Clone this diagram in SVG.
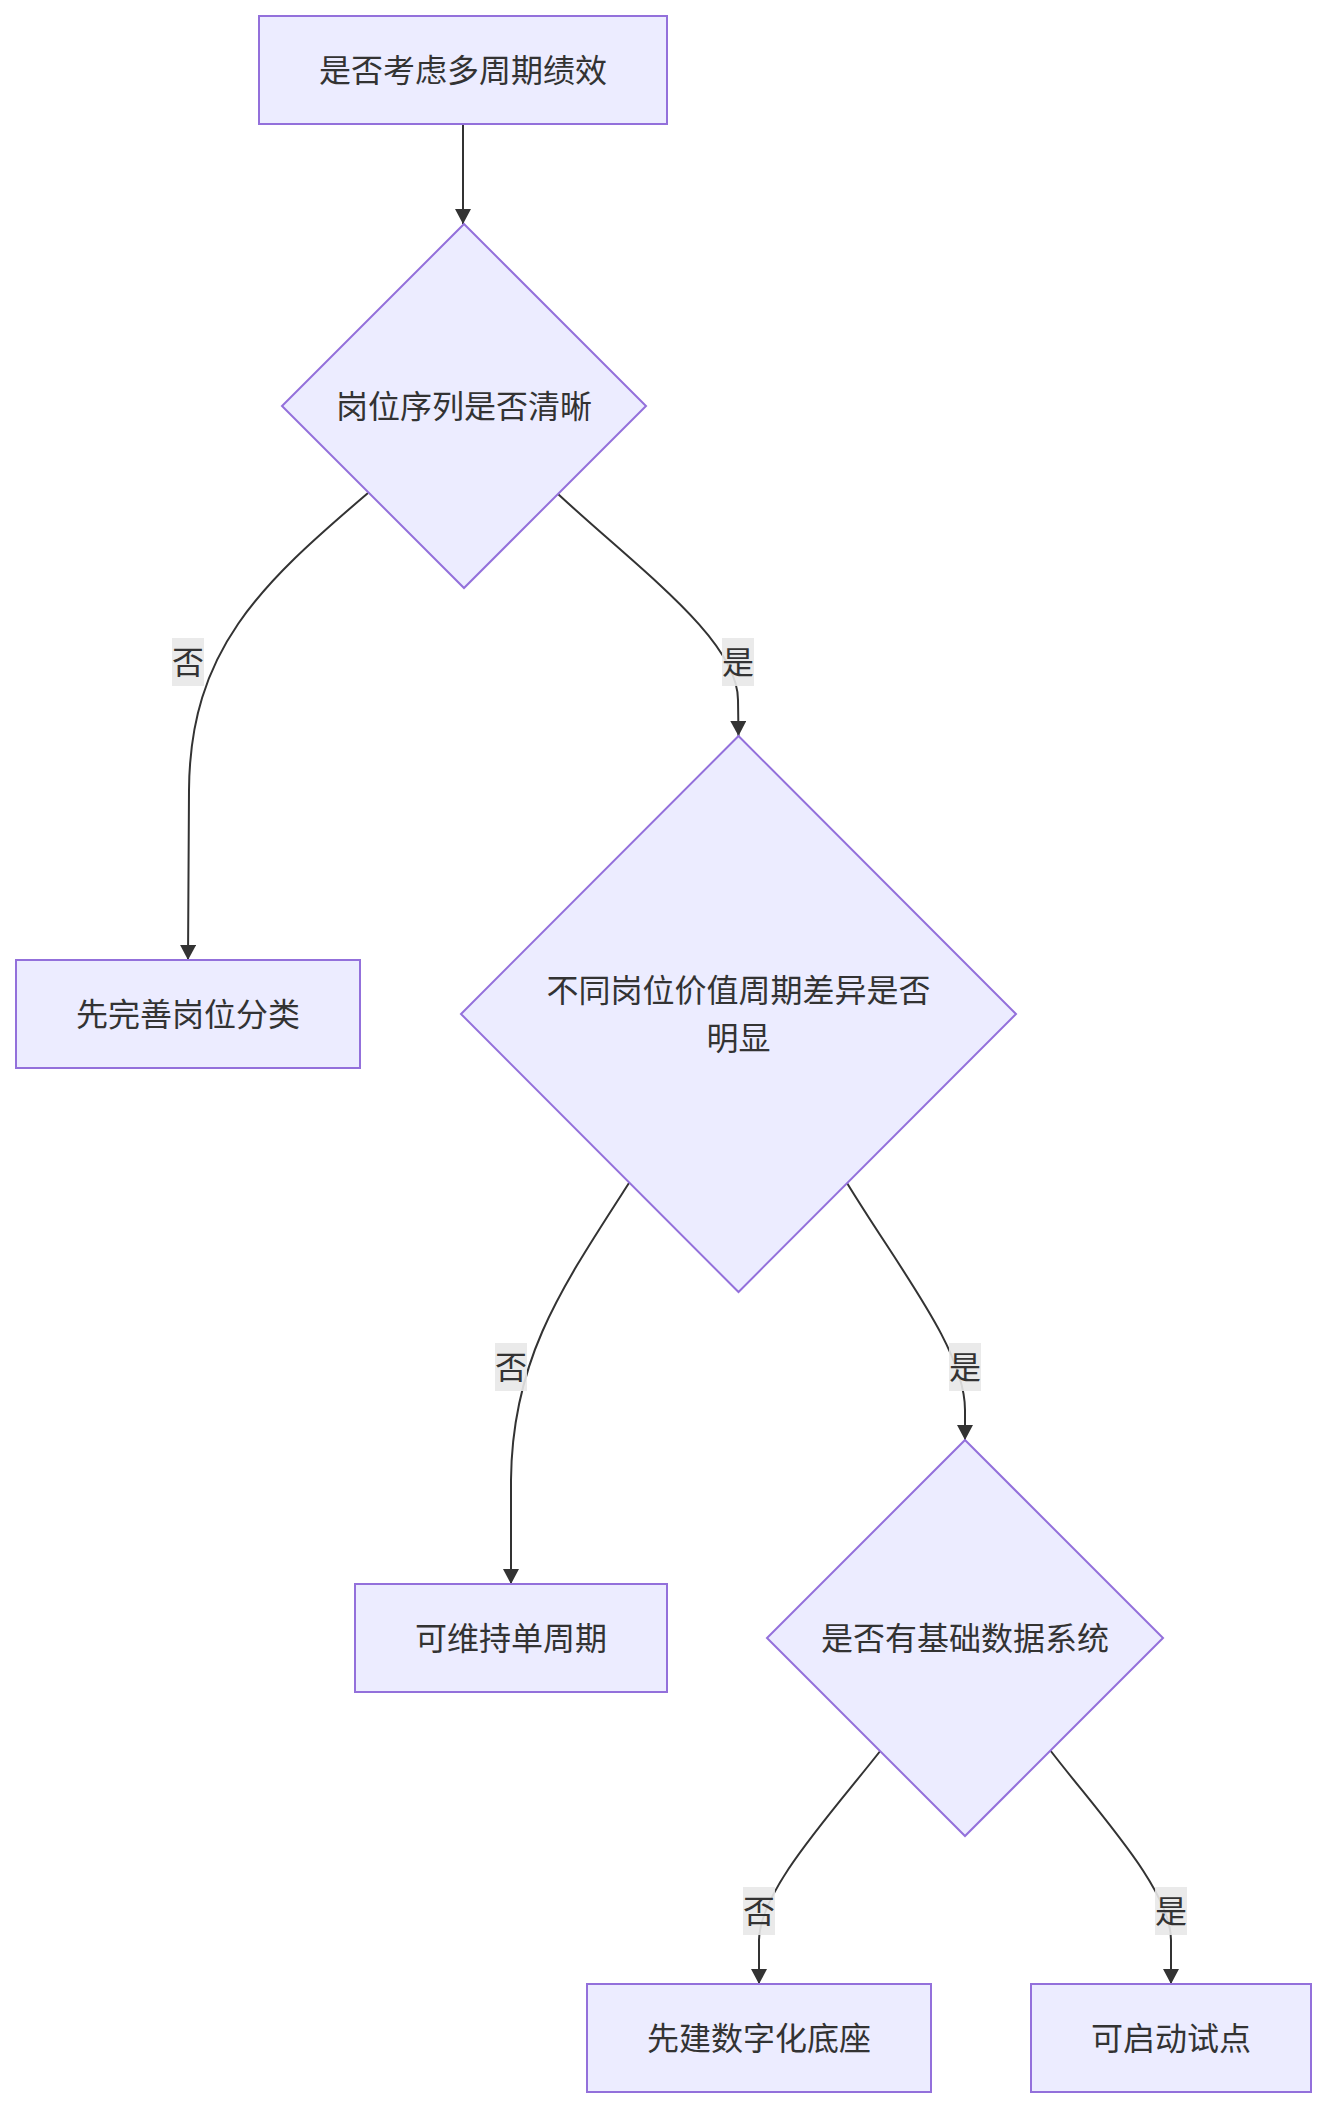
<svg xmlns="http://www.w3.org/2000/svg" width="1327" height="2108" viewBox="0 0 1327 2108">
<style>
.node{fill:#ECECFF;stroke:#9370DB;stroke-width:2}
.t{font-family:"Noto Sans CJK SC","Noto Sans",sans-serif;font-size:32px;fill:#333333;text-anchor:middle;dominant-baseline:central}
.edge{fill:none;stroke:#333333;stroke-width:2}
.lbl{fill:#e8e8e8;fill-opacity:0.9}
</style>
<defs>
<marker id="arrow" viewBox="0 0 15 16" refX="15" refY="8" markerWidth="15" markerHeight="16" markerUnits="userSpaceOnUse" orient="auto">
<path d="M0,0 L15,8 L0,16 z" fill="#333333"/>
</marker>
</defs>
<g id="connectors">
<path class="edge" d="M463,124 L463,224" marker-end="url(#arrow)"/>
<path class="edge" d="M368,493 C260,585 190,650 189,790 L188,960" marker-end="url(#arrow)"/>
<path class="edge" d="M558,494 C640,570 738,640 738,700 L738.5,736" marker-end="url(#arrow)"/>
<path class="edge" d="M629,1183 C560,1290 512,1360 511,1480 L511,1584" marker-end="url(#arrow)"/>
<path class="edge" d="M847,1183 C900,1270 965,1350 965,1410 L965,1440" marker-end="url(#arrow)"/>
<path class="edge" d="M881,1750 C830,1815 760,1890 759,1940 L759,1984" marker-end="url(#arrow)"/>
<path class="edge" d="M1050,1750 C1100,1815 1171,1890 1171,1940 L1171,1984" marker-end="url(#arrow)"/>
<g id="label-no1"><rect class="lbl" x="172" y="638" width="32" height="48"/><text class="t" x="188" y="660">否</text></g>
<g id="label-yes1"><rect class="lbl" x="722" y="638" width="32" height="48"/><text class="t" x="738" y="660">是</text></g>
<g id="label-no2"><rect class="lbl" x="495" y="1343" width="32" height="48"/><text class="t" x="511" y="1365">否</text></g>
<g id="label-yes2"><rect class="lbl" x="949" y="1343" width="32" height="48"/><text class="t" x="965" y="1365">是</text></g>
<g id="label-no3"><rect class="lbl" x="743" y="1887" width="32" height="48"/><text class="t" x="759" y="1909">否</text></g>
<g id="label-yes3"><rect class="lbl" x="1155" y="1887" width="32" height="48"/><text class="t" x="1171" y="1909">是</text></g>
</g>
<g id="n-start"><rect class="node" x="259" y="16" width="408" height="108"/><text class="t" x="463" y="68">是否考虑多周期绩效</text></g>
<g id="n-d1"><polygon class="node" points="464,224 646,406 464,588 282,406"/><text class="t" x="464" y="404">岗位序列是否清晰</text></g>
<g id="n-class"><rect class="node" x="16" y="960" width="344" height="108"/><text class="t" x="188" y="1012">先完善岗位分类</text></g>
<g id="n-d2"><polygon class="node" points="738.5,736 1016,1014 738.5,1292 461,1014"/><text class="t" x="738.5" y="988">不同岗位价值周期差异是否</text><text class="t" x="738.5" y="1036">明显</text></g>
<g id="n-single"><rect class="node" x="355" y="1584" width="312" height="108"/><text class="t" x="511" y="1636">可维持单周期</text></g>
<g id="n-d3"><polygon class="node" points="965,1440 1163,1638 965,1836 767,1638"/><text class="t" x="965" y="1636">是否有基础数据系统</text></g>
<g id="n-digital"><rect class="node" x="587" y="1984" width="344" height="108"/><text class="t" x="759" y="2036">先建数字化底座</text></g>
<g id="n-pilot"><rect class="node" x="1031" y="1984" width="280" height="108"/><text class="t" x="1171" y="2036">可启动试点</text></g>
</svg>
